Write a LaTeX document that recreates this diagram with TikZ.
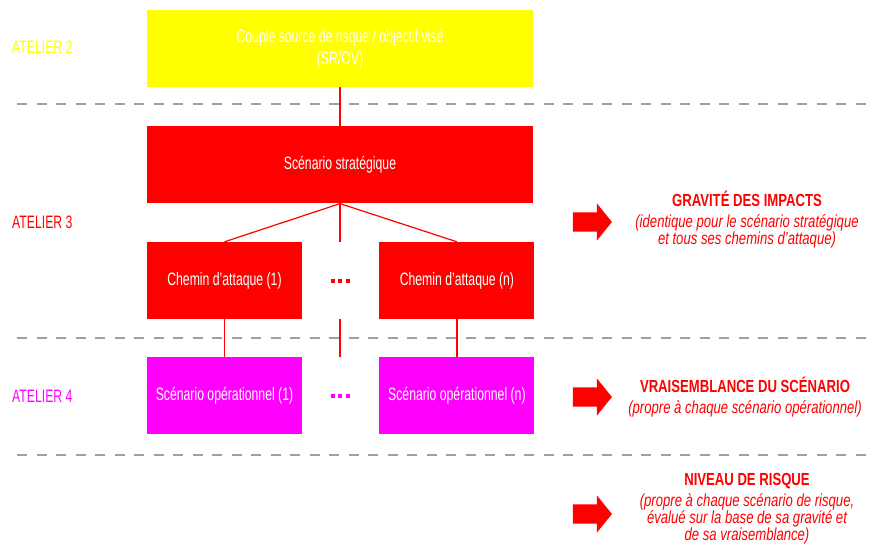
\documentclass[tikz,border=0pt]{standalone}
\usepackage{fontspec}
\setmainfont[FakeStretch=0.75]{Liberation Sans}
\newfontfamily\boxfont[FakeStretch=0.68]{Liberation Sans}
\usepackage{xcolor}
\usetikzlibrary{shapes,arrows,positioning}

\definecolor{srovyellow}{HTML}{FFFF00}
\definecolor{stratred}{HTML}{FF0000}
\definecolor{opmagenta}{HTML}{FF00FF}
\definecolor{sepgray}{HTML}{A0A0A0}

\begin{document}
\begin{tikzpicture}[
    x=1pt, y=-1pt,
    font=\boxfont\fontsize{18}{22}\selectfont,
    block/.style={rectangle, text=white, align=center, inner sep=0pt, minimum width=386pt, minimum height=77pt},
    layer/.style={rectangle, text=white, align=center, inner sep=0pt, minimum width=155pt, minimum height=77pt},
    link/.style={draw=stratred, line width=1.2pt},
    separator/.style={draw=sepgray, line width=1.6pt, dash pattern=on 10pt off 9.5pt},
    atelier/.style={anchor=west, inner sep=0pt},
    bigarrow/.style={single arrow, fill=stratred, inner xsep=0pt, inner ysep=9.5pt, single arrow head extend=9pt, single arrow tip angle=102, minimum height=39pt},
    outcome/.style={align=center, text=stratred, font=\rmfamily\fontsize{17.5}{17}\selectfont},
    dot/.style={rectangle, inner sep=0pt, minimum size=4pt}
]
\useasboundingbox (0,0) rectangle (874,548);

% Separators
\foreach \y in {104,338,455}
  \draw [separator] (17,\y) -- (874,\y);

% Atelier labels
\node (at2) [atelier, text=srovyellow] at (12,47) {ATELIER 2};
\node (at3) [atelier, text=stratred] at (12,222) {ATELIER 3};
\node (at4) [atelier, text=opmagenta] at (12,396) {ATELIER 4};

% Atelier 2
\node (srov) [block, fill=srovyellow] at (340,48.5) {Couple source de risque / objectif visé\\(SR/OV)};

% Atelier 3
\node (strat) [block, below=39pt of srov, fill=stratred] {Scénario stratégique};
\node (chem1) [layer, fill=stratred] at (224.5,280.5) {Chemin d’attaque (1)};
\node (chemn) [layer, right=77pt of chem1, fill=stratred] {Chemin d’attaque (n)};

\draw [link] (srov) -- (strat);
\draw [link] (strat.south) -- (chem1.north);
\draw [link] (strat.south) -- (chemn.north);
\coordinate (midtop) at (strat.south |- chem1.north);
\draw [link] (strat.south) -- (midtop);

% Atelier 4
\node (op1) [layer, below=38pt of chem1, fill=opmagenta] {Scénario opérationnel (1)};
\node (opn) [layer, below=38pt of chemn, fill=opmagenta] {Scénario opérationnel (n)};

\draw [link] (chem1) -- (op1);
\draw [link] (chemn) -- (opn);
\coordinate (midlow) at (strat.south |- chem1.south);
\coordinate (midend) at (strat.south |- op1.north);
\draw [link] (midlow) -- (midend);

% Dots
\foreach \dx [count=\i] in {-7.5,0,7.5} {
  \node (dotc\i) [dot, fill=stratred] at ([xshift=\dx pt]strat.south |- chem1) {};
  \node (doto\i) [dot, fill=opmagenta] at ([xshift=\dx pt]strat.south |- op1) {};
}

% Outcomes
\node (arr1) [bigarrow] at (588.5,222) {};
\node (arr2) [bigarrow] at (588.5,397) {};
\node (arr3) [bigarrow] at (588.5,514) {};

\node (gravite) [outcome] at (747,220) {\bfseries GRAVITÉ DES IMPACTS\\[4pt]
  \itshape (identique pour le scénario stratégique\\\itshape et tous ses chemins d’attaque)};
\node (vraisemb) [outcome] at (745,397.5) {\bfseries VRAISEMBLANCE DU SCÉNARIO\\[4pt]
  \itshape (propre à chaque scénario opérationnel)};
\node (risque) [outcome] at (747,509) {\bfseries NIVEAU DE RISQUE\\[4pt]
  \itshape (propre à chaque scénario de risque,\\\itshape évalué sur la base de sa gravité et\\\itshape de sa vraisemblance)};

\end{tikzpicture}
\end{document}
